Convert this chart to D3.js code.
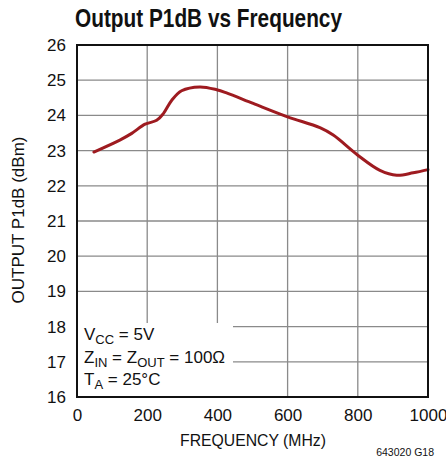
<!DOCTYPE html>
<html><head><meta charset="utf-8">
<script src="https://cdn.jsdelivr.net/npm/d3@7"></script>
<style>
body{margin:0;background:#fff;}
text{font-family:"Liberation Sans Narrow","Arial Narrow","Liberation Sans",sans-serif;fill:#111;}
</style></head>
<body><svg id="c" width="446" height="463"></svg>
<script>
const freqMHz = [48,122,156,194,227,246,270,298,350,398,426,502,600,692,730,800,863,911,958,1000];
const p1dB    = [22.96,23.30,23.49,23.75,23.86,24.05,24.43,24.70,24.81,24.73,24.64,24.34,23.96,23.65,23.44,22.87,22.44,22.30,22.37,22.46];
const xTicks = [0,200,400,600,800,1000];
const yTicks = [16,17,18,19,20,21,22,23,24,25,26];

const svg = d3.select("#c");
const L=77,R=428,T=45,B=397;
const x = d3.scaleLinear().domain([0,1000]).range([L,R]);
const y = d3.scaleLinear().domain([16,26]).range([B,T]);

// grid
svg.append("g").selectAll("line").data(xTicks.slice(1,-1)).join("line")
  .attr("x1",d=>x(d)).attr("x2",d=>x(d)).attr("y1",T).attr("y2",B)
  .attr("stroke","#8a8a8a").attr("stroke-width",1.3);
svg.append("g").selectAll("line").data(yTicks.slice(1,-1)).join("line")
  .attr("x1",L).attr("x2",R).attr("y1",d=>y(d)).attr("y2",d=>y(d))
  .attr("stroke","#8a8a8a").attr("stroke-width",1.3);

// annotation background
svg.append("rect").attr("x",L+1).attr("y",323).attr("width",155).attr("height",B-324).attr("fill","#fff");

// curve
svg.append("path").datum(freqMHz.map((f,i)=>[f,p1dB[i]]))
  .attr("d",d3.line().x(d=>x(d[0])).y(d=>y(d[1])).curve(d3.curveCatmullRom.alpha(0.5)))
  .attr("fill","none").attr("stroke","#9e1b20").attr("stroke-width",3).attr("stroke-linecap","round");

// frame
svg.append("rect").attr("x",L).attr("y",T).attr("width",R-L).attr("height",B-T)
  .attr("fill","none").attr("stroke","#111").attr("stroke-width",2);

// axes labels
const xa = d3.axisBottom(x).tickValues(xTicks).tickFormat(d3.format("d")).tickSize(0).tickPadding(12);
const gx = svg.append("g").attr("transform",`translate(0,${B})`).call(xa);
gx.select(".domain").remove();
gx.selectAll("text").attr("font-size",17).attr("fill","#111").attr("font-family",null);
const ya = d3.axisLeft(y).tickValues(yTicks).tickSize(0).tickPadding(11);
const gy = svg.append("g").attr("transform",`translate(${L},0)`).call(ya);
gy.select(".domain").remove();
gy.selectAll("text").attr("font-size",17).attr("fill","#111").attr("font-family",null);

svg.append("text").attr("x",75).attr("y",27).attr("font-size",25).attr("font-weight","bold")
  .attr("textLength",267).attr("lengthAdjust","spacingAndGlyphs")
  .text("Output P1dB vs Frequency");
svg.append("text").attr("x",253).attr("y",446).attr("text-anchor","middle").attr("font-size",17)
  .attr("textLength",146).attr("lengthAdjust","spacingAndGlyphs")
  .text("FREQUENCY (MHz)");
svg.append("text").attr("transform","translate(24,220) rotate(-90)").attr("text-anchor","middle").attr("font-size",17)
  .text("OUTPUT P1dB (dBm)");
svg.append("text").attr("x",434).attr("y",456).attr("text-anchor","end").attr("font-size",10.5)
  .text("643020 G18");

// annotation
const ann = svg.append("g").attr("font-size",17);
const t1 = ann.append("text").attr("x",84).attr("y",340);
t1.append("tspan").text("V");
t1.append("tspan").attr("dy",4).attr("font-size",13).text("CC");
t1.append("tspan").attr("dy",-4).text(" = 5V");
const t2 = ann.append("text").attr("x",84).attr("y",363);
t2.append("tspan").text("Z");
t2.append("tspan").attr("dy",4).attr("font-size",13).text("IN");
t2.append("tspan").attr("dy",-4).text(" = Z");
t2.append("tspan").attr("dy",4).attr("font-size",13).text("OUT");
t2.append("tspan").attr("dy",-4).text(" = 100Ω");
const t3 = ann.append("text").attr("x",84).attr("y",385);
t3.append("tspan").text("T");
t3.append("tspan").attr("dy",4).attr("font-size",13).text("A");
t3.append("tspan").attr("dy",-4).text(" = 25°C");
</script></body></html>
